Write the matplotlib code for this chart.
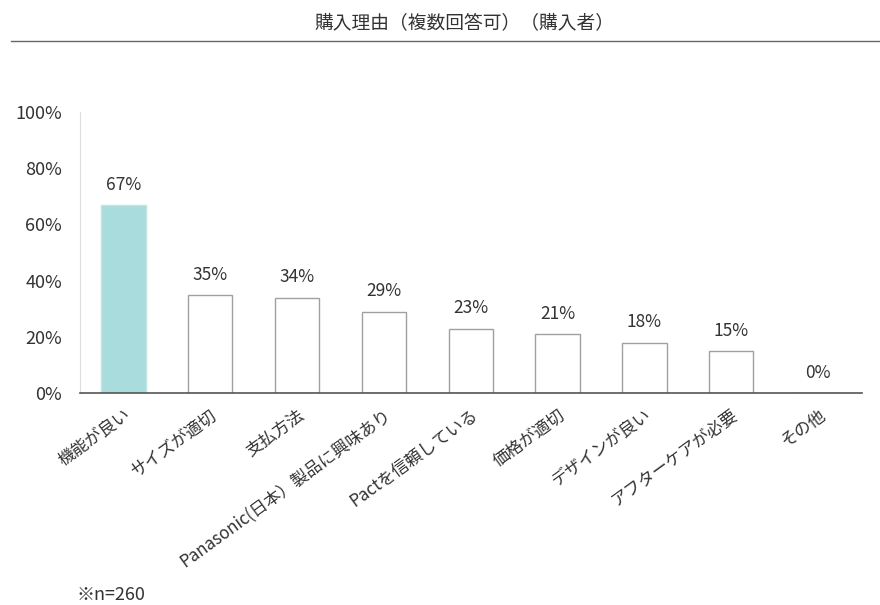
import matplotlib.pyplot as plt
import numpy as np

plt.rcParams['font.family'] = ['Noto Sans CJK JP', 'DejaVu Sans']

# purchase reasons and share of buyers (%)
categories = ['機能が良い', 'サイズが適切', '支払方法', 'Panasonic(日本）製品に興味あり',
              'Pactを信頼している', '価格が適切', 'デザインが良い', 'アフターケアが必要', 'その他']
values = [67, 35, 34, 29, 23, 21, 18, 15, 0]
y_ticks = [0, 20, 40, 60, 80, 100]

fig = plt.figure(figsize=(8.8, 6.05), dpi=100)
ax = fig.add_axes([0.091, 0.350, 0.888, 0.465])

x = np.arange(len(categories))
colors = ['#a9dcdc'] + ['white'] * (len(values) - 1)
edges = ['#bfe4e4'] + ['#a0a0a0'] * (len(values) - 1)
ax.bar(x, values, width=0.51, color=colors, edgecolor=edges, linewidth=1.0)

for xi, v in zip(x, values):
    ax.text(xi, v + 4, f'{v}%', ha='center', va='bottom', fontsize=12.5, color='#333333')

ax.set_xlim(-0.5, len(categories) - 0.5)
ax.set_ylim(0, 100)
ax.set_yticks(y_ticks)
ax.set_yticklabels([f'{t}%' for t in y_ticks], fontsize=13, color='#333333')
ax.set_xticks(x)
ax.set_xticklabels(categories, rotation=36, ha='right', rotation_mode='anchor',
                   fontsize=12.2, color='#333333')
ax.tick_params(axis='y', length=0, pad=13)
ax.tick_params(axis='x', length=0, pad=9)

for side in ['top', 'right']:
    ax.spines[side].set_visible(False)
ax.spines['left'].set_color('#dddddd')
ax.spines['bottom'].set_color('#555555')
ax.spines['bottom'].set_linewidth(1.2)

# title and the rule underneath it
fig.text(0.528, 0.963, '購入理由（複数回答可）（購入者）', ha='center', va='center',
         fontsize=13.5, color='#333333')
fig.add_artist(plt.Line2D([0.012, 1.0], [0.933, 0.933], color='#666666', linewidth=1.0))

fig.text(0.087, 0.016, '※n=260', ha='left', va='center', fontsize=13, color='#333333')

fig.savefig('out.png', dpi=100)
